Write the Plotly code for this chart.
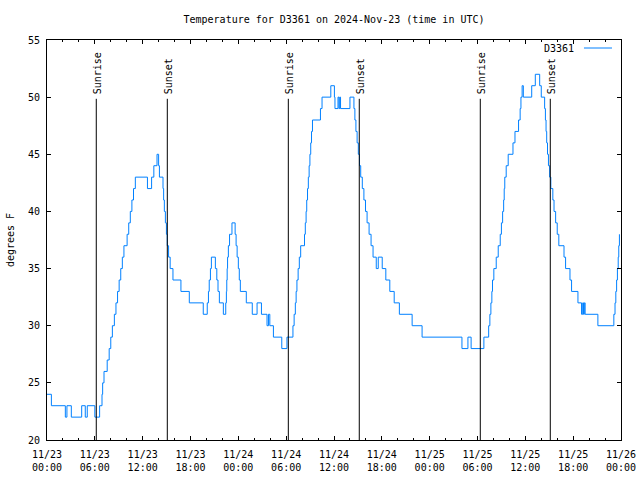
import pandas as pd
import plotly.graph_objects as go

start = "2024-11-23 00:00"
station = "D3361"

# hours since 2024-11-23 00:00 UTC at which the reading changes, and the new reading (deg F)
hours = [0.0, 0.55, 2.3, 2.5, 3.05, 4.35, 4.8, 5.05, 6.0, 6.6,
         6.9, 6.98, 7.15, 7.55, 7.8, 8.0, 8.2, 8.45, 8.65, 8.85,
         9.05, 9.25, 9.45, 9.65, 10.05, 10.25, 10.45, 10.65, 10.85, 11.08,
         12.6, 13.12, 13.4, 13.8, 14.0, 14.1, 14.55, 14.63, 14.72, 14.85,
         14.98, 15.08, 15.25, 15.45, 15.8, 16.8, 17.85, 19.6, 20.1, 20.25,
         20.35, 20.5, 20.62, 21.12, 21.3, 21.45, 21.62, 22.12, 22.42, 22.5,
         22.55, 22.6, 22.65, 22.75, 22.9, 23.2, 23.6, 23.72, 23.85, 24.0,
         24.12, 24.25, 25.0, 25.75, 26.35, 26.9, 27.6, 27.78, 27.95, 28.4,
         29.45, 30.1, 30.85, 31.0, 31.15, 31.25, 31.35, 31.5, 31.65, 31.82,
         32.3, 32.4, 32.5, 32.58, 32.68, 32.78, 32.88, 32.98, 33.08, 33.18,
         33.3, 34.3, 34.5, 35.6, 36.05, 36.12, 36.5, 36.62, 36.72, 36.82,
         38.0, 38.5, 38.62, 38.75, 38.9, 39.05, 39.2, 39.35, 39.55, 39.75,
         39.95, 40.15, 40.4, 40.65, 40.9, 41.3, 41.55, 42.05, 42.5, 43.0,
         43.55, 44.2, 45.8, 47.05, 52.05, 52.8, 53.2, 54.8, 55.4, 55.55,
         55.68, 55.8, 55.88, 56.05, 56.35, 56.6, 56.85, 57.0, 57.15, 57.28,
         57.35, 57.42, 57.6, 57.85, 58.45, 58.7, 59.15, 59.35, 59.45, 59.6,
         59.75, 60.8, 61.25, 61.8, 62.0, 62.42, 62.52, 62.6, 62.68, 62.78,
         62.9, 63.05, 63.2, 63.45, 63.6, 63.8, 64.0, 64.2, 64.85, 65.05,
         65.6, 65.8, 66.6, 67.05, 67.2, 67.3, 67.4, 67.5, 69.1, 71.1,
         71.25, 71.35, 71.45, 71.55, 71.65, 71.72, 71.8]
temps = [24, 23, 22, 23, 22, 23, 22, 23, 22, 23,
         24, 25, 26, 27, 28, 29, 30, 31, 32, 33,
         34, 35, 36, 37, 38, 39, 40, 41, 42, 43,
         42, 43, 44, 45, 44, 43, 42, 41, 40, 39,
         38, 37, 36, 35, 34, 33, 32, 31, 32, 33,
         34, 35, 36, 35, 34, 33, 32, 31, 32, 33,
         34, 35, 36, 37, 38, 39, 38, 37, 36, 35,
         34, 33, 32, 31, 32, 31, 30, 31, 30, 29,
         28, 29, 30, 31, 32, 33, 34, 35, 36, 37,
         38, 39, 40, 41, 42, 43, 44, 45, 46, 47,
         48, 49, 50, 51, 50, 49, 50, 49, 50, 49,
         50, 49, 48, 47, 46, 45, 44, 43, 42, 41,
         40, 39, 38, 37, 36, 35, 36, 35, 34, 33,
         32, 31, 30, 29, 28, 29, 28, 29, 30, 31,
         32, 33, 34, 35, 36, 37, 38, 39, 40, 41,
         42, 43, 44, 45, 46, 47, 48, 49, 50, 51,
         50, 51, 52, 51, 50, 49, 48, 47, 46, 45,
         44, 43, 42, 41, 40, 39, 38, 37, 36, 35,
         34, 33, 32, 31, 32, 31, 32, 31, 30, 31,
         32, 33, 34, 35, 36, 37, 38]

sunrise_hours = [6.18, 30.27, 54.35]
sunset_hours = [15.09, 39.17, 63.13]
span_hours = 72

FONT = "DejaVu Sans Mono"
base = pd.Timestamp(start)
times = base + pd.to_timedelta(hours, unit="h")

fig = go.Figure()
fig.add_trace(go.Scatter(
    x=times, y=temps, mode="lines", name=station, showlegend=False,
    line=dict(color="#0080ff", width=1, shape="hv"),
))

for label, hrs in (("Sunrise", sunrise_hours), ("Sunset", sunset_hours)):
    for h in hrs:
        t = base + pd.Timedelta(hours=h)
        fig.add_shape(type="line", xref="x", yref="y domain",
                      x0=t, x1=t, y0=0, y1=0.853,
                      line=dict(color="black", width=1))
        fig.add_annotation(text=label, x=t, xref="x", y=0.86, yref="y domain",
                           textangle=-90, xanchor="center", yanchor="bottom",
                           showarrow=False, xshift=1,
                           font=dict(family=FONT, size=10, color="black"))

# key (text left of the line sample, gnuplot style)
fig.add_annotation(text=station, xref="paper", yref="paper", x=0.9216, y=0.9775,
                   xanchor="right", yanchor="middle", showarrow=False,
                   font=dict(family=FONT, size=10, color="black"))
fig.add_shape(type="line", xref="paper", yref="paper", x0=0.9355, x1=0.9843,
              y0=0.98, y1=0.98, line=dict(color="#0080ff", width=1))

fig.update_layout(
    width=640, height=480,
    margin=dict(l=47, r=19, t=40, b=40, autoexpand=False),
    paper_bgcolor="white", plot_bgcolor="white",
    font=dict(family=FONT, size=10, color="black"),
    title=dict(text=f"Temperature for {station} on 2024-Nov-23 (time in UTC)",
               x=0.5, xref="paper", xanchor="center",
               y=1 - 19 / 480, yanchor="middle", automargin=False,
               font=dict(family=FONT, size=10, color="black")),
)
fig.update_xaxes(
    type="date", automargin=False,
    range=[base, base + pd.Timedelta(hours=span_hours)],
    tick0=base, dtick=6 * 3600 * 1000,
    tickformat="%m/%d<br>%H:%M",
    ticks="inside", ticklen=4, tickcolor="black",
    minor=dict(dtick=2 * 3600 * 1000, ticks="inside", ticklen=2, tickcolor="black"),
    showline=True, linecolor="black", linewidth=1, mirror="allticks",
    showgrid=False, zeroline=False,
    tickfont=dict(family=FONT, size=10, color="black"),
    ticklabelstandoff=5,
)
fig.update_yaxes(
    range=[20, 55], tick0=20, dtick=5, automargin=False,
    ticks="inside", ticklen=4, tickcolor="black",
    showline=True, linecolor="black", linewidth=1, mirror="allticks",
    showgrid=False, zeroline=False,
    tickfont=dict(family=FONT, size=10, color="black"),
    ticklabelstandoff=4,
    title=dict(text="degrees F", standoff=11,
               font=dict(family=FONT, size=10, color="black")),
)

fig.write_html("out.html", config={"displayModeBar": False},
               post_script="document.body.style.margin='0';")
